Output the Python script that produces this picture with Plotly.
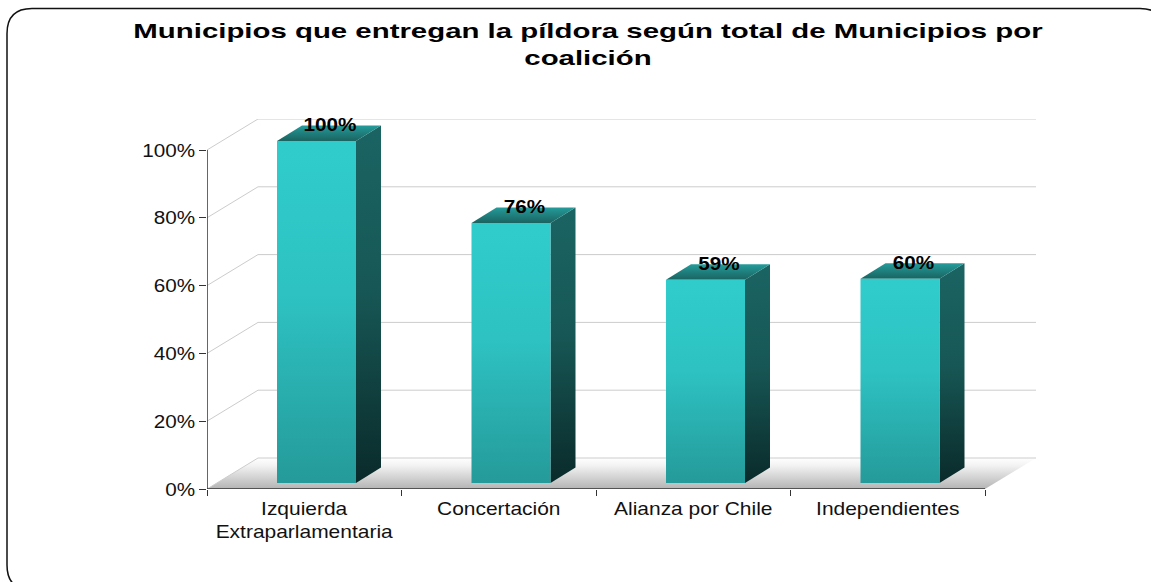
import plotly.graph_objects as go

# ---- data ----
categories = ["Izquierda<br>Extraparlamentaria", "Concertación", "Alianza por Chile", "Independientes"]
values = [100, 76, 59.4, 59.7]
value_labels = ["100%", "76%", "59%", "60%"]
y_ticks = [0, 20, 40, 60, 80, 100]
y_tick_labels = ["0%", "20%", "40%", "60%", "80%", "100%"]
title = "Municipios que entregan la píldora según total de Municipios por<br>coalición"

# ---- 3D projection, in axis units ----
PX_X = 194.5      # px per category
PX_Y = 3.39       # px per percent
WALL_DX = 51 / PX_X
WALL_DY = 31 / PX_Y
BAR_W = 79 / PX_X
BAR_OFF = 70 / PX_X
BAR_BASE = 6 / PX_Y
BAR_DX = 25 / PX_X
BAR_DY = 15.5 / PX_Y
BAR_SCALE = 1.009

# colour scales run from the bottom of each polygon to its top
FRONT = [[0, "#259A9A"], [0.55, "#2EC2C2"], [1, "#30CCCC"]]
SIDE = [[0, "#0A2A2A"], [0.55, "#175856"], [1, "#1A6463"]]
TOP = [[0, "#1A6360"], [1, "#249C9A"]]
FLOOR = [[0, "#B4B4B4"], [0.75, "#F2F2F2"], [1, "#FFFFFF"]]
GRID = "#CCCCCC"

fig = go.Figure()


def poly(xs, ys, scale):
    fig.add_trace(go.Scatter(
        x=xs + xs[:1], y=ys + ys[:1], mode="lines", line=dict(width=0),
        fill="toself", hoverinfo="skip", showlegend=False,
        fillgradient=dict(type="vertical", colorscale=scale)))


def line(xs, ys, color, width=1.0):
    fig.add_trace(go.Scatter(
        x=xs, y=ys, mode="lines", line=dict(color=color, width=width),
        hoverinfo="skip", showlegend=False, cliponaxis=False))


n = len(categories)

# floor
poly([0, n, n + WALL_DX, WALL_DX], [0, 0, WALL_DY, WALL_DY], FLOOR)

# wall grid lines
for t in y_ticks:
    line([0, WALL_DX, n + WALL_DX], [t, t + WALL_DY, t + WALL_DY], GRID)

# bars
for i, v in enumerate(values):
    x0 = i + BAR_OFF
    x1 = x0 + BAR_W
    b = BAR_BASE
    h = b + v * BAR_SCALE
    poly([x1, x1 + BAR_DX, x1 + BAR_DX, x1], [b, b + BAR_DY, h + BAR_DY, h], SIDE)
    poly([x0, x1, x1 + BAR_DX, x0 + BAR_DX], [h, h, h + BAR_DY, h + BAR_DY], TOP)
    poly([x0, x1, x1, x0], [b, b, h, h], FRONT)

# front axis lines
line([0, 0], [0, y_ticks[-1]], "#333333", 1.5)
line([0, n], [0, 0], "#333333", 1.5)

# value labels
fig.add_trace(go.Scatter(
    x=[i + BAR_OFF + BAR_W / 2 + BAR_DX / 2 + 1 / PX_X for i in range(n)],
    y=[BAR_BASE + v * BAR_SCALE + BAR_DY - 1 / PX_Y for v in values],
    mode="text", text=value_labels, textposition="middle center",
    textfont=dict(family="Liberation Sans", size=18, color="#000000"),
    texttemplate="<b>%{text}</b>", hoverinfo="skip", showlegend=False, cliponaxis=False))

W, H = 1151, 582
L, R, T, B = 207, 1036, 119, 489


def px(x):
    return (x - L) / (R - L)


def py(y):
    return (B - y) / (B - T)


def frame(x0, y0, x1, y1, r):
    return (f"M {px(x0 + r)},{py(y0)} L {px(x1 - r)},{py(y0)} "
            f"Q {px(x1)},{py(y0)} {px(x1)},{py(y0 + r)} "
            f"L {px(x1)},{py(y1 - r)} Q {px(x1)},{py(y1)} {px(x1 - r)},{py(y1)} "
            f"L {px(x0 + r)},{py(y1)} Q {px(x0)},{py(y1)} {px(x0)},{py(y1 - r)} "
            f"L {px(x0)},{py(y0 + r)} Q {px(x0)},{py(y0)} {px(x0 + r)},{py(y0)} Z")


fig.update_layout(
    width=W, height=H, autosize=False,
    margin=dict(l=L, r=W - R, t=T, b=H - B, pad=0),
    paper_bgcolor="white", plot_bgcolor="white",
    font=dict(family="Liberation Sans", color="#111111"),
    title=dict(text=f"<b>{title}</b>", x=588 / W, xanchor="center", y=1 - 38 / H, yanchor="middle",
               font=dict(family="Liberation Sans", size=21, color="#000000")),
    xaxis=dict(range=[0, n + WALL_DX], showgrid=False, zeroline=False, showline=False,
               tickvals=[i + 0.5 for i in range(n)], ticktext=categories, ticks="",
               tickfont=dict(size=18), ticklen=0, ticklabelstandoff=7,
               minor=dict(tickvals=list(range(n + 1)), ticks="outside", ticklen=6, tickcolor="#333333", showgrid=False)),
    yaxis=dict(range=[0, y_ticks[-1] + WALL_DY], showgrid=False, zeroline=False, showline=False,
               tickvals=y_ticks, ticktext=y_tick_labels, ticks="outside", ticklen=7, tickcolor="#333333",
               tickfont=dict(size=19)),
    shapes=[dict(type="path", xref="paper", yref="paper", path=frame(7, 8.5, 1165, 590, 25),
                 line=dict(color="#111111", width=1.5), fillcolor="rgba(0,0,0,0)", layer="above")],
)

# The reference's type is horizontally stretched: widen the SVG text the same way.
post = """
document.body.style.margin='0';
document.documentElement.style.overflow='hidden';
function widen(sel, k, pivot) {
  document.querySelectorAll(sel).forEach(function (t) {
    var b = t.getBBox();
    var c = pivot === 'right' ? b.x + b.width : b.x + b.width / 2;
    var old = t.getAttribute('transform') || '';
    t.setAttribute('transform', old + ' translate(' + c + ',0) scale(' + k + ',1) translate(' + (-c) + ',0)');
  });
}
widen('.gtitle', 1.40, 'mid');
widen('.xtick text', 1.165, 'mid');
widen('.ytick text', 1.09, 'right');
widen('.textpoint text', 1.15, 'mid');
"""
fig.write_html("out.html", post_script=post, config={"displayModeBar": False})
